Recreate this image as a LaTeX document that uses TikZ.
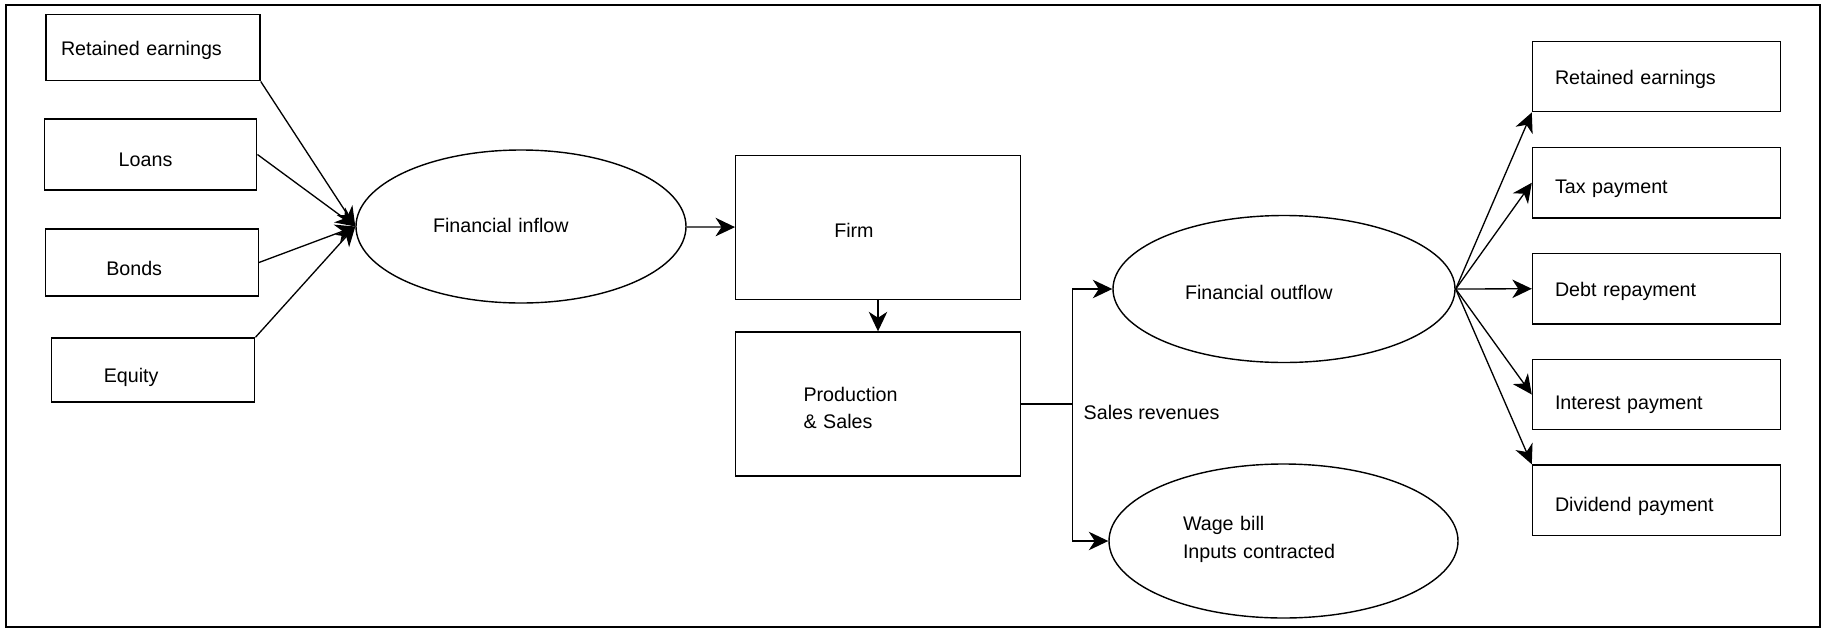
\documentclass[tikz,border=0pt]{standalone}
\usepackage{fontspec}
\setmainfont{Liberation Sans}
\usepackage{tikz}
\usetikzlibrary{shapes.geometric, arrows.meta, positioning, calc}
\tikzstyle{box} = [rectangle, draw=black, line width=0.8pt, align=left, text depth=0pt]
\tikzstyle{outbox} = [box, minimum width=4.96cm, minimum height=1.41cm, text width=4.06cm]
\tikzstyle{io} = [ellipse, draw=black, line width=0.8pt, align=left, text depth=0pt]
\tikzstyle{arrow} = [line width=0.75pt,-{Stealth[length=0.39cm,width=0.37cm,inset=0.12cm]}]

\begin{document}
\begin{tikzpicture}[scale = 1, font=\fontsize{11.2pt}{16pt}\selectfont]
\useasboundingbox (0, 0) rectangle (36.56, -12.58);
\draw[line width=1.1pt] (0.12, -0.10) rectangle (36.40, -12.54);

  % sources of funds
  \coordinate (first) at (3.06, -0.95);
  \node[box, minimum width=4.28cm, minimum height=1.33cm, text width=3.68cm, text height=0.31cm] (lre) at (first) {Retained earnings};
  \node[box, minimum width=4.25cm, minimum height=1.42cm, text width=1.27cm, text height=0.47cm] (lloan) at ($(first) + (-0.05, -2.14)$) {Loans};
  \node[box, minimum width=4.25cm, minimum height=1.34cm, text width=1.83cm, text height=0.5cm] (lbond) at ($(first) + (-0.02, -4.30)$) {Bonds};
  \node[box, minimum width=4.07cm, minimum height=1.28cm, text width=1.97cm, text height=0.49cm] (lequity) at ($(first) + (0, -6.45)$) {Equity};

  \node[io, minimum width=6.6cm, minimum height=3.06cm, text width=3.52cm, text height=0.22cm] (inflow) at (10.42, -4.53) {Financial inflow};

  \node[box, minimum width=5.69cm, minimum height=2.87cm, text width=1.75cm, text height=0.4cm] (firm) at (17.56, -4.55) {Firm};
  \node[box, minimum width=5.69cm, minimum height=2.88cm, text width=2.98cm, text height=0.45cm, text depth=0.554cm,
        font=\fontsize{11.2pt}{15.7pt}\selectfont] (prod) at (17.56, -8.08) {Production\\ \& Sales};

  \coordinate (split) at ($(prod.east) + (1.03, 0)$);
  \node[anchor=base west] (sales) at (21.55, -8.39) {Sales revenues};

  \node[io, minimum width=6.84cm, minimum height=2.94cm, text width=3.96cm, text height=0.42cm] (outflow) at (25.68, -5.78) {Financial outflow};
  \node[io, minimum width=6.98cm, minimum height=3.08cm, text width=4.02cm, text height=0.14cm, text depth=0.564cm] (wage) at (25.67, -10.82) {Wage bill\\ Inputs contracted};

  % uses of funds
  \coordinate (second) at (33.13, -1.53);
  \node[outbox, text height=0.31cm] (rre) at (second) {Retained earnings};
  \node[outbox, text height=0.42cm] (rtax) at ($(second) + (0, -2.125)$) {Tax payment};
  \node[outbox, text height=0.29cm] (rdebt) at ($(second) + (0, -4.245)$) {Debt repayment};
  \node[outbox, text height=0.6cm] (rint) at ($(second) + (0, -6.36)$) {Interest payment};
  \node[outbox, text height=0.45cm] (rdiv) at ($(second) + (0, -8.475)$) {Dividend payment};

  \draw[arrow] (lre.south east) -- (inflow.west);
  \draw[arrow] (lloan.east) -- (inflow.west);
  \draw[arrow] (lbond.east) -- (inflow.west);
  \draw[arrow] (lequity.north east) -- (inflow.west);
  \draw[arrow] (inflow) -- (firm);
  \draw[arrow] (firm) -- (prod);

  \draw[line width=0.75pt] (prod.east) -- (split);
  \draw[arrow] (split) |- (outflow);
  \draw[arrow] (split) |- (wage);

  \draw[arrow] (outflow.east) -- (rre.south west);
  \draw[arrow] (outflow.east) -- (rtax.west);
  \draw[arrow] (outflow.east) -- (rdebt.west);
  \draw[arrow] (outflow.east) -- (rint.west);
  \draw[arrow] (outflow.east) -- (rdiv.north west);

\end{tikzpicture}
\end{document}
